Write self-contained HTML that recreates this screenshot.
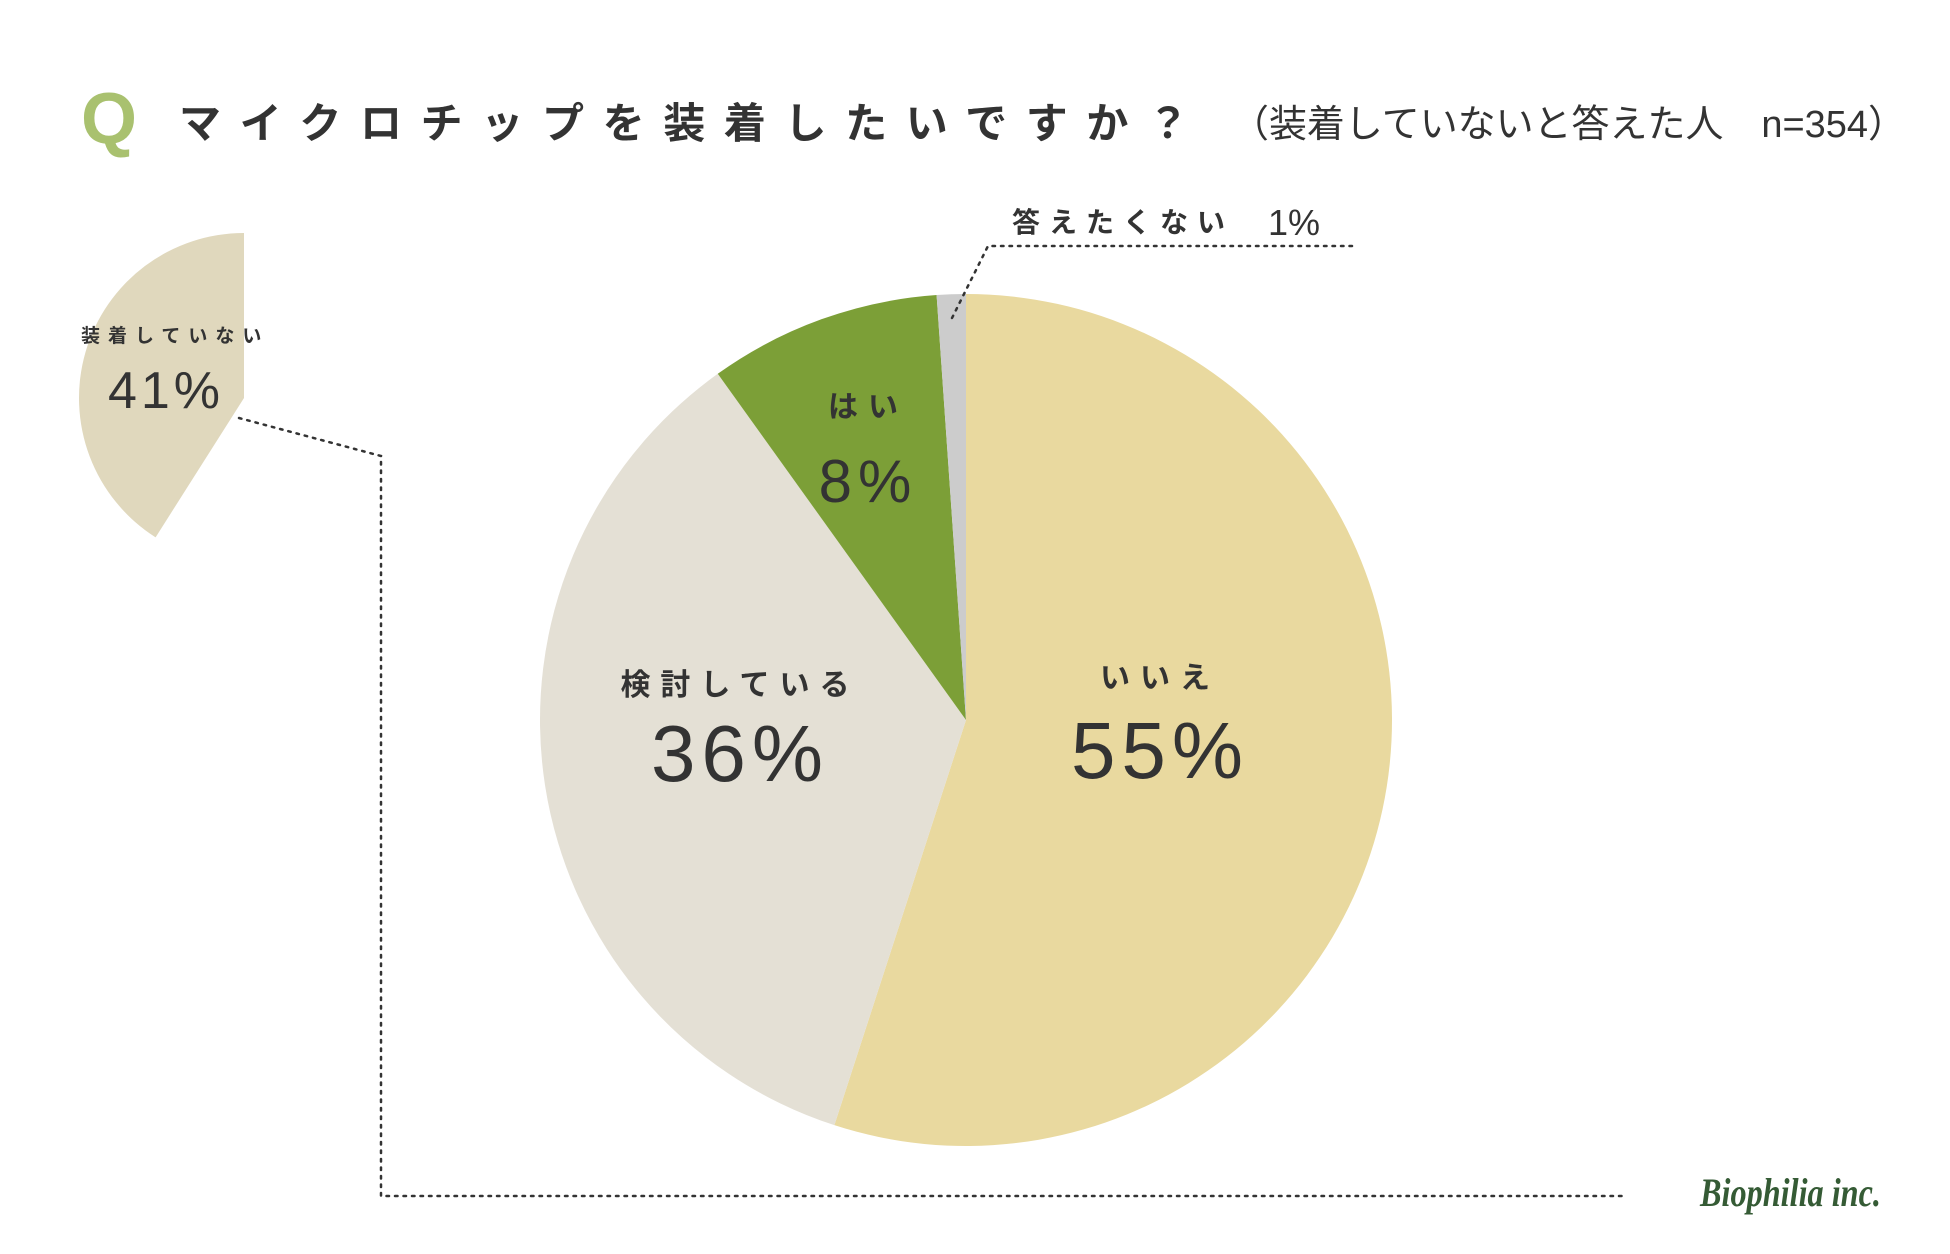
<!DOCTYPE html>
<html><head><meta charset="utf-8"><style>
html,body{margin:0;padding:0;background:#fff;}
svg{display:block;}
text{font-family:"Liberation Sans","Noto Sans CJK JP",sans-serif;fill:#333;}
</style></head><body>
<svg id="chart" width="1950" height="1254" viewBox="0 0 1950 1254" xmlns="http://www.w3.org/2000/svg">
<text x="81" y="143" font-size="72" font-weight="bold" style="fill:#a9c16f">Q</text>
<text x="179" y="138" font-size="42" font-weight="bold" textLength="1010" lengthAdjust="spacing">マイクロチップを装着したいですか？</text>
<text x="1231" y="137" font-size="38" textLength="675" lengthAdjust="spacingAndGlyphs">（装着していないと答えた人　n=354）</text>
<g id="small"></g>
<g id="main"></g>
<polyline points="239,418 381,456 381,1196 1625,1196" fill="none" stroke="#333" stroke-width="2.5" stroke-dasharray="2.5 6" stroke-linecap="round"/>
<polyline points="952,318 988,246 1355,246" fill="none" stroke="#333" stroke-width="2.5" stroke-dasharray="2.5 6" stroke-linecap="round"/>
<text x="1012" y="232" font-size="28" font-weight="bold" letter-spacing="9">答えたくない</text>
<text x="1268" y="235" font-size="36">1%</text>
<text x="81" y="342" font-size="19" font-weight="bold" letter-spacing="8">装着していない</text>
<text x="166" y="408" font-size="52" text-anchor="middle" letter-spacing="4">41%</text>
<text x="1700" y="1206" font-size="40" font-style="italic" font-weight="bold" textLength="181" lengthAdjust="spacingAndGlyphs" style="fill:#355b35;font-family:'Liberation Serif',serif">Biophilia inc.</text>
</svg>
<script>
const categories = ["いいえ","検討している","はい","答えたくない"];
const values = [55,35.1,8.8,1.1];
const colors = ["#e9d99f","#e4e0d5","#7c9f37","#cccccc"];
const valueLabels = ["55%","36%","8%","1%"];
const subValue = [41];
const NS="http://www.w3.org/2000/svg";
// label placement (layout, not data)
const labelPos=[[1160,688,778,80],[740,695,781,80],[868,417,502,60]];
function pt(cx,cy,r,a){return [cx+r*Math.sin(a),cy-r*Math.cos(a)];}
function wedge(cx,cy,r,a0,a1){
  const p0=pt(cx,cy,r,a0),p1=pt(cx,cy,r,a1);
  const large=Math.abs(a1-a0)>Math.PI?1:0;
  const sweep=a1>a0?1:0;
  return `M${cx},${cy}L${p0[0]},${p0[1]}A${r},${r} 0 ${large} ${sweep} ${p1[0]},${p1[1]}Z`;
}
const main=document.getElementById('main');
const cx=966,cy=720,R=426;
const total=values.reduce((a,b)=>a+b,0);
let acc=0;
values.forEach((v,i)=>{
  const a0=acc/total*2*Math.PI; acc+=v; const a1=acc/total*2*Math.PI;
  const p=document.createElementNS(NS,'path');
  p.setAttribute('d',wedge(cx,cy,R,a0,a1));
  p.setAttribute('fill',colors[i]);
  
  
  main.appendChild(p);
});
labelPos.forEach((lp,i)=>{
  const t=document.createElementNS(NS,'text');
  t.setAttribute('x',lp[0]);t.setAttribute('y',lp[1]);
  t.setAttribute('font-size','30');t.setAttribute('font-weight','bold');
  t.setAttribute('text-anchor','middle');t.setAttribute('letter-spacing','10');
  t.textContent=categories[i];
  
  
  main.appendChild(t);
  const t2=document.createElementNS(NS,'text');
  t2.setAttribute('x',lp[0]);t2.setAttribute('y',lp[2]);
  t2.setAttribute('font-size',lp[3]);
  t2.setAttribute('text-anchor','middle');t2.setAttribute('letter-spacing','6');
  t2.textContent=valueLabels[i];
  
  
  main.appendChild(t2);
});
const small=document.getElementById('small');
const sp=document.createElementNS(NS,'path');
const sa=subValue[0]/100*2*Math.PI;
sp.setAttribute('d',wedge(244,398,165,0,-sa));
sp.setAttribute('fill','#e0d8bd');


small.appendChild(sp);
</script>
</body></html>
